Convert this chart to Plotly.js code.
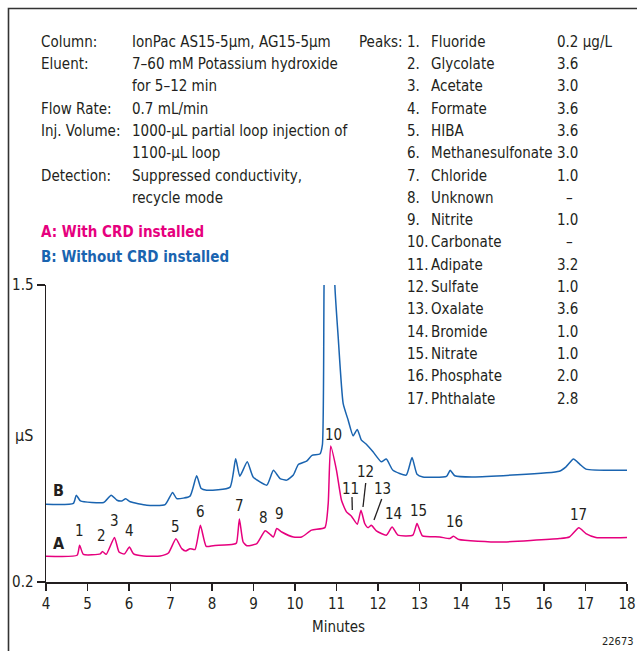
<!DOCTYPE html>
<html>
<head>
<meta charset="utf-8">
<script src="https://cdn.plot.ly/plotly-3.0.1.min.js"></script>
<style>
  html, body { margin: 0; padding: 0; background: #fff; }
  #chart { width: 637px; height: 651px; }
</style>
</head>
<body>
<div id="chart"></div>
<script>
// ---- Data ----
const timeA = [4.0,4.75,4.81,4.90,5.31,5.36,5.45,5.65,5.76,5.89,6.01,6.11,6.35,6.75,6.95,7.13,7.27,7.37,7.47,7.59,7.72,7.86,8.03,8.51,8.59,8.66,8.75,8.84,9.08,9.28,9.38,9.48,9.56,9.68,9.96,10.16,10.40,10.72,10.80,10.86,11.0,11.12,11.24,11.36,11.50,11.59,11.68,11.76,11.84,11.96,12.20,12.34,12.48,12.84,12.94,13.07,13.49,13.73,13.82,13.95,14.93,16.37,16.61,16.84,17.01,17.25,18.0];
const signalA = [0.313,0.317,0.361,0.321,0.323,0.334,0.321,0.395,0.331,0.323,0.353,0.323,0.314,0.314,0.327,0.389,0.346,0.336,0.346,0.342,0.448,0.356,0.359,0.365,0.371,0.476,0.375,0.359,0.368,0.424,0.412,0.397,0.434,0.419,0.397,0.397,0.427,0.438,0.543,0.795,0.689,0.558,0.507,0.488,0.453,0.514,0.456,0.438,0.448,0.424,0.405,0.441,0.405,0.405,0.456,0.402,0.397,0.390,0.400,0.386,0.375,0.390,0.397,0.437,0.412,0.395,0.395];

const timeB = [4.0,4.66,4.73,4.83,5.39,5.57,5.71,5.83,5.92,6.03,6.43,6.87,7.05,7.15,7.47,7.63,7.74,7.87,8.43,8.57,8.67,8.85,8.99,9.32,9.48,9.64,9.80,9.96,10.08,10.28,10.41,10.60,10.66,10.70,10.82,10.96,11.04,11.16,11.28,11.40,11.50,11.60,11.72,11.88,12.08,12.20,12.36,12.68,12.82,12.94,13.08,13.65,13.74,13.85,14.29,16.37,16.53,16.71,16.86,17.01,18.0];
const signalB = [0.540,0.544,0.580,0.555,0.548,0.580,0.558,0.555,0.564,0.551,0.536,0.539,0.592,0.565,0.576,0.665,0.609,0.602,0.614,0.739,0.663,0.726,0.660,0.624,0.689,0.653,0.646,0.668,0.714,0.729,0.754,0.760,0.800,1.5,3.0,1.5,1.274,0.982,0.909,0.840,0.868,0.821,0.803,0.770,0.726,0.738,0.689,0.668,0.745,0.672,0.660,0.662,0.689,0.665,0.660,0.685,0.704,0.738,0.716,0.694,0.689];

const xTicks = [4,5,6,7,8,9,10,11,12,13,14,15,16,17,18];
const yTicks = [0.2, 1.5];
const yTickLabels = ['0.2', '1.5'];

const peakNumbers = ['1','2','3','4','5','6','7','8','9','10','11','12','13','14','15','16','17'];
const peakNames = ['Fluoride','Glycolate','Acetate','Formate','HIBA','Methanesulfonate','Chloride','Unknown','Nitrite','Carbonate','Adipate','Sulfate','Oxalate','Bromide','Nitrate','Phosphate','Phthalate'];
const peakConc = ['0.2 µg/L','3.6','3.0','3.6','3.6','3.0','1.0','–','1.0','–','3.2','1.0','3.6','1.0','1.0','2.0','2.8'];

const condLabels = ['Column:','Eluent:','','Flow Rate:','Inj. Volume:','','Detection:',''];
const condValues = ['IonPac AS15-5µm, AG15-5µm','7–60 mM Potassium hydroxide','for 5–12 min','0.7 mL/min','1000-µL partial loop injection of','1100-µL loop','Suppressed conductivity,','recycle mode'];

// ---- Layout helpers ----
const W = 637, H = 651;
const M = {l: 46, r: 10, t: 285, b: 69};
const PW = W - M.l - M.r, PH = H - M.t - M.b;
const px = X => (X - M.l) / PW;
const py = Y => (H - M.b - Y) / PH;

const FONT = '"Liberation Sans Narrow", "DejaVu Sans Condensed", sans-serif';
const PINK = '#e6007e', BLUE = '#1a64b0', INK = '#231f20';

const ann = [];
function txt(text, X, Y, opts) {
  ann.push(Object.assign({
    text: text, xref: 'paper', yref: 'paper', x: px(X), y: py(Y),
    xanchor: 'left', yanchor: 'middle', showarrow: false,
    font: {family: FONT, size: 15, color: INK}, borderpad: 0
  }, opts || {}));
}

// conditions block
const rowY0 = 41.7, rowStep = 22.3;
condLabels.forEach((t, i) => { if (t) txt(t, 40, rowY0 + i * rowStep); });
condValues.forEach((t, i) => txt(t, 131, rowY0 + i * rowStep));
txt('<b>A: With CRD installed</b>', 40, 231.7, {font: {family: FONT, size: 15, color: PINK}});
txt('<b>B: Without CRD installed</b>', 40, 256.7, {font: {family: FONT, size: 15, color: BLUE}});

// peaks list
txt('Peaks:', 358, rowY0);
peakNumbers.forEach((n, i) => {
  const Y = rowY0 + i * rowStep;
  txt(n + '.', 406, Y);
  txt(peakNames[i], 430, Y);
  const c = peakConc[i];
  txt(c, c === '–' ? 565 : 556, Y);
});

// peak labels on chromatogram (pixel anchor positions)
const labelPos = [[79,531],[101,536],[114,521],[129,531],[175,527],[200,512],[239,506],[263,518],[279,514],[333,435],[350.5,489],[366,472],[382,489],[393,514],[418.5,511],[454,522],[578,515]];
peakNumbers.forEach((n, i) => {
  txt(n, labelPos[i][0], labelPos[i][1], {xanchor: 'center', font: {family: FONT, size: 15, color: INK}});
});
txt('<b>A</b>', 52, 543, {font: {family: FONT, size: 16, color: INK}});
txt('<b>B</b>', 52, 490, {font: {family: FONT, size: 16, color: INK}});
txt('µS', 14, 435, {font: {family: FONT, size: 16, color: INK}});
txt('Minutes', 338, 627, {xanchor: 'center', font: {family: FONT, size: 15, color: INK}});
txt('22673', 617, 641, {xanchor: 'center', font: {family: FONT, size: 11, color: INK}});

const seg = (x0, y0, x1, y1, w) => ({type: 'line', xref: 'paper', yref: 'paper',
  x0: px(x0), y0: py(y0), x1: px(x1), y1: py(y1), line: {color: INK, width: w || 1.3}});
const shapes = [
  seg(352, 497, 352.3, 510),
  seg(365.7, 483, 363, 507),
  seg(381.7, 499, 374, 520),
  {type: 'rect', xref: 'paper', yref: 'paper', x0: px(8.5), y0: py(8.5), x1: px(660), y1: py(680),
   line: {color: '#333', width: 1.6}, fillcolor: 'rgba(0,0,0,0)'}
];

const traces = [
  {x: timeB, y: signalB, type: 'scatter', mode: 'lines', name: 'B',
   line: {color: BLUE, width: 1.5, shape: 'spline', smoothing: 0.5}, hoverinfo: 'skip'},
  {x: timeA, y: signalA, type: 'scatter', mode: 'lines', name: 'A',
   line: {color: PINK, width: 1.5, shape: 'spline', smoothing: 0.5}, hoverinfo: 'skip'}
];

const layout = {
  width: W, height: H, margin: M, showlegend: false,
  paper_bgcolor: '#fff', plot_bgcolor: '#fff',
  font: {family: FONT, size: 15, color: INK},
  xaxis: {range: [4, 18], tickvals: xTicks, ticks: 'outside', ticklen: 7, tickwidth: 1.3, tickcolor: INK,
          showline: true, linecolor: INK, linewidth: 1.5, showgrid: false, zeroline: false,
          tickfont: {family: FONT, size: 15, color: INK}, fixedrange: true},
  yaxis: {range: [0.2, 1.5], tickvals: yTicks, ticktext: yTickLabels, ticks: 'outside', ticklen: 8, tickwidth: 1.3, tickcolor: INK,
          showline: true, linecolor: INK, linewidth: 1.5, showgrid: false, zeroline: false,
          tickfont: {family: FONT, size: 15, color: INK}, fixedrange: true},
  annotations: ann,
  shapes: shapes
};

Plotly.newPlot('chart', traces, layout, {staticPlot: true, displayModeBar: false});
</script>
</body>
</html>
